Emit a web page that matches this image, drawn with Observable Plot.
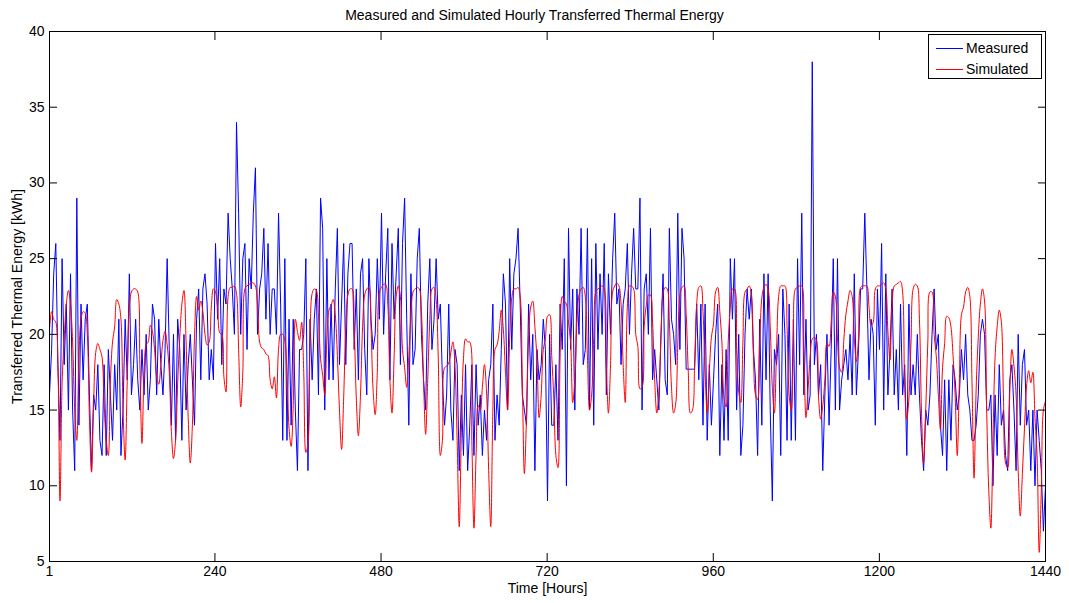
<!DOCTYPE html>
<html>
<head>
<meta charset="utf-8">
<script src="https://cdn.jsdelivr.net/npm/d3@7"></script>
<script src="https://cdn.jsdelivr.net/npm/@observablehq/plot@0.6"></script>
<style>
  body { margin: 0; background: #fff; font-family: "Liberation Sans", Arial, sans-serif; }
  #wrap { position: relative; width: 1069px; height: 603px; overflow: hidden; }
  #title { height: 24px; line-height: 30px; width: 1069px; text-align: center; font-size: 14px; color: #000; white-space: nowrap; }
  #legend { position: absolute; left: 928px; top: 34px; width: 112px; height: 43px; border: 1px solid #000; background: #fff; }
  .row { position: absolute; left: 0; height: 20px; width: 100%; }
  .swatch { position: absolute; left: 7px; top: 10px; width: 27px; height: 0; border-top: 1px solid; }
  .lbl { position: absolute; left: 37px; top: 1px; font-size: 14px; line-height: 18px; color: #000; }
  svg { display: block; }
</style>
</head>
<body>
<div id="wrap">
  <div id="title">Measured and Simulated Hourly Transferred Thermal Energy</div>
  <div id="chart"></div>
  <div id="legend">
    <div class="row" style="top:3px"><div class="swatch" style="border-color:#0000ff"></div><div class="lbl">Measured</div></div>
    <div class="row" style="top:24px"><div class="swatch" style="border-color:#ff0000"></div><div class="lbl">Simulated</div></div>
  </div>
</div>
<script>
// Measured hourly energy (kWh), sampled about every 3 hours across hours 1..1440
const measured = [
  16,19,24,26,18,13,25,18,22,15,24,15,11,29,14,22,17,21,22,16,11,16,15,18,13,12,18,12,19,16,13,18,15,21,12,15,21,17,24,16,
  18,21,17,15,19,16,20,15,17,22,21,16,21,18,16,19,25,19,14,20,13,21,19,13,20,15,18,20,17,14,21,23,17,23,24,22,17,19,17,26,
  21,25,18,23,22,28,25,23,20,34,28,20,25,26,19,25,23,28,31,20,23,24,27,21,26,20,23,23,20,28,22,13,25,13,21,14,21,15,11,19,
  19,20,25,11,21,17,21,23,16,29,27,15,25,17,22,17,23,27,18,22,26,18,24,26,26,19,23,17,24,25,19,16,25,21,19,20,25,21,28,20,
  24,27,17,26,21,24,27,18,26,29,21,14,24,18,19,25,27,20,17,15,22,25,19,21,25,21,22,17,14,16,22,15,13,19,18,11,16,12,18,11,
  14,18,12,18,14,16,12,15,13,17,18,22,13,16,14,19,24,22,15,25,19,24,25,27,22,16,15,14,22,17,20,11,19,17,18,21,19,9,20,14,
  14,18,13,22,19,25,10,27,19,23,15,23,20,27,18,19,27,15,25,14,26,19,24,20,26,16,24,20,25,28,22,23,18,22,23,26,20,24,27,23,
  23,29,15,23,24,20,27,17,19,17,15,20,24,17,16,27,21,20,18,28,19,27,25,17.7,17.7,17.7,17.7,17.7,22,17,22,14,22,13,18,14,17,20,22,12,
  18,13,19,13,25,21,25,15,20,12,14,20,23,21,23,19,17,12,21,14,24,17,24,15,9,19,18,20,12,23,20,13,22,13,21,13,25,18,28,16,
  21,15,16,38,18,20,16,18,11,16,20,14,19,25,15,25,15,17,18,19,17,20,16,24,16,19,23,23,28,23,17,21,20,14,23,19,26,15,24,16,
  19,23,16,19,15,22,16,18,12,22,16,18,16,20,16,13,11,15,14,16,20,23,19,20,14,12,17,11,17,13,18,17,15,16,19,17,20,16,15,13,
  13,14,16,20,21,20,15,15,16,10,16,12,18,14,15,12,11,17,18,15,11,20,14,18,19,14,15,11,15,10,15,13,11,7,10
];
// Simulated hourly energy (kWh), same sampling
const simulated = [
  20.3,21.5,21,20.8,18,9,16.8,19.7,22,22.9,22,19.5,15,13,18.5,21,21.5,21.4,20,14.5,10.9,15.5,18.8,19.4,19,18.5,15.4,13,12,17,19.5,20.5,22.3,22,21,15,11.7,17,21.8,22.8,
  23,23,22.8,18,12.8,17.3,19.3,19.5,20.6,20.2,19,17.2,16.7,18,19.6,20.2,19.3,17.5,13.6,11.8,13,16.8,19.8,22,22.9,19.5,14.5,11.5,14,19.8,22.5,21.6,22.2,21.5,20,19.3,19.5,21.8,23,22.8,
  21.8,20.1,20,17.2,16.2,22.5,23.1,23.1,23.2,22.7,19,15.2,17.5,23,23.2,23.3,23.4,23.4,23.2,22,19.5,19.1,19,18.7,18.6,17,16.4,17.2,15.8,19,20,20,19.6,17.5,13.8,12.6,15.3,21,20.2,19.6,
  20.8,17.5,12.2,12.8,19.5,22.7,23,22.9,21.2,18.4,17.3,16,19.7,21.6,21.9,22.3,21.3,18.6,15,12.4,15.8,20.5,22.6,23,23,20.5,15.8,13.3,16,20.5,22.6,23,23.1,20.5,16.3,14.7,17.5,22.8,23.1,23.3,
  23.3,22,17,14.8,18.5,22.5,23.2,22.5,19,17.8,16.5,18.6,21.2,22.8,23,23.1,23,21.5,17,13.4,17,21,23,23.1,22.3,18.5,12,13,17.8,17.9,18.1,18.8,19.5,17.8,13,7.3,13.5,18.4,19.7,19.5,
  19.5,13,7.2,12,15.3,15,16.5,18,16.2,11,7.3,15,19,19.3,20.2,21.6,20.3,17.5,15,19.7,22.4,23,23,23.1,22.5,17,10.8,14.5,19.7,21.8,22.2,20.5,18.3,14.5,16,19,19.7,21.2,21.3,18.6,
  15.8,12,11.2,18.5,22.5,22.2,22,20.8,19.5,15.5,17,20.8,22.6,23,23.1,22.5,18.5,15,16,19.8,22.8,23,23.1,23.2,23,18,14.8,18,22.8,23.2,23.4,23.2,22,18,15.5,21.8,23.2,23.2,23,20,
  19.2,16.4,16.5,20.5,21.9,22.6,22.6,20.8,17,14.8,16.2,19.7,22.7,23.1,23,20.8,16.5,14.8,15.4,19.3,22.6,23.1,23.2,21.3,17.5,14.8,15,17.8,22,23.1,23.2,21.5,17.5,14.8,17.5,19.8,20.7,22.8,23.1,21.5,
  19.5,15.8,15.2,19.5,21.8,23,23,19,16.2,15.5,19.5,22.8,23,23.2,22.7,18.6,16,15.7,19.4,22.4,23.1,23.3,23,20.5,16.5,14.8,19,22.5,23.2,23.2,23.2,20.5,16,15,19,23,23.1,23.2,23.2,19,
  14.5,16.4,18.5,19.7,19.8,19.6,15.8,14.4,15.3,17,19.4,19.2,20.8,22.8,22.5,19.7,17.8,17.5,19.6,21.3,22.2,22.9,22.5,19.8,18.2,19.7,23.1,23.2,23.2,23.2,21.8,20.6,20.8,23,23.2,23.2,23.3,23.4,23,20.2,
  18.3,21.9,23.2,23.3,23.4,23.5,22.8,16.5,14.4,15.8,19.5,23,23.3,23.2,21,14.8,11.5,15,19.5,22.8,22.8,20,18.6,16,13.7,17.8,19.4,21.2,21.1,20.5,18.6,16,12,16.8,21.3,21.8,22.8,23.1,22.5,17,
  10.5,16.4,19.8,22,23,22.2,15,9.7,7.2,13,18.5,20.5,21.6,20.8,15.8,11.5,11.2,16.2,19,17.9,16,11,8,10.8,13.8,16.6,17.6,16.8,17.5,14.5,12,5.6,9.7,15,15.6
];
const xTicks = [1, 240, 480, 720, 960, 1200, 1440];
const yTicks = [5, 10, 15, 20, 25, 30, 35, 40];
const firstHour = 1, lastHour = 1440;

const step = (lastHour - firstHour) / (measured.length - 1);
const rows = measured.map((m, i) => ({hour: firstHour + i * step, measured: m, simulated: simulated[i]}));

const chart = Plot.plot({
  width: 1069,
  height: 579,
  marginTop: 7,
  marginBottom: 42,
  marginLeft: 49,
  marginRight: 24,
  x: {domain: [firstHour, lastHour]},
  y: {domain: [5, 40]},
  style: {fontFamily: "'Liberation Sans', Arial, sans-serif", fontSize: "14px", color: "#000", background: "#fff"},
  marks: [
    Plot.lineY(rows, {x: "hour", y: "measured", stroke: "#0000ff", strokeWidth: 1}),
    Plot.lineY(rows, {x: "hour", y: "simulated", stroke: "#ff0000", strokeWidth: 1, curve: "catmull-rom"}),
    Plot.frame({stroke: "#000", strokeWidth: 1}),
    Plot.axisX({anchor: "bottom", ticks: xTicks, tickSize: -8, tickFormat: () => "", label: null}),
    Plot.axisX({anchor: "top", ticks: xTicks, tickSize: -8, tickFormat: () => "", label: null}),
    Plot.axisX({anchor: "bottom", ticks: xTicks, tickSize: 0, tickPadding: 5, tickFormat: d => String(d), label: null, fontSize: 14}),
    Plot.axisY({anchor: "left", ticks: yTicks, tickSize: -8, tickFormat: () => "", label: null}),
    Plot.axisY({anchor: "right", ticks: yTicks, tickSize: -8, tickFormat: () => "", label: null}),
    Plot.axisY({anchor: "left", ticks: yTicks, tickSize: 0, tickPadding: 5, tickFormat: d => String(d), label: null, fontSize: 14}),
    Plot.text(["Time [Hours]"], {frameAnchor: "bottom", dy: 31, text: d => d, fontSize: 14, textAnchor: "middle"}),
    Plot.text(["Transferred Thermal Energy [kWh]"], {frameAnchor: "left", dx: -32, rotate: -90, text: d => d, fontSize: 14, textAnchor: "middle"})
  ]
});
document.getElementById("chart").appendChild(chart);
</script>
</body>
</html>
